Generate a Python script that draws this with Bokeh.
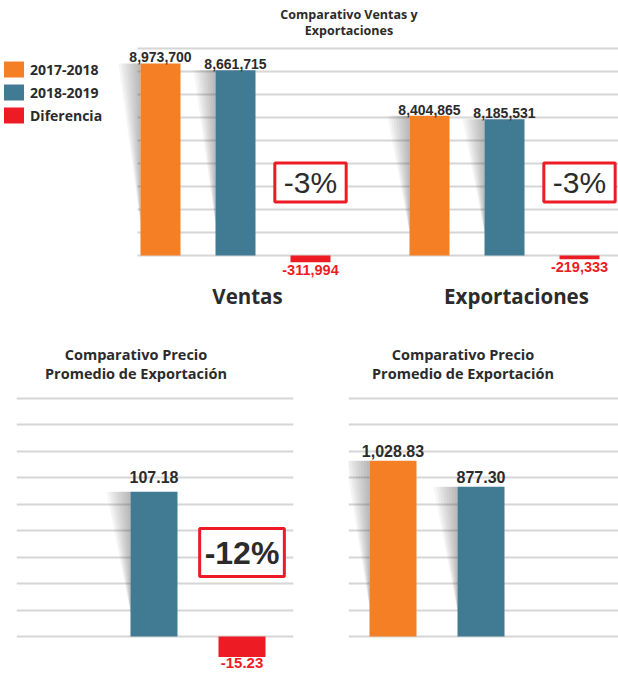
from bokeh.plotting import figure
from bokeh.models import (Range1d, FixedTicker, Grid, Legend, LegendItem, Label)
from bokeh.layouts import column, row
from bokeh.embed import file_html
from bokeh.resources import INLINE
from bokeh.core.properties import value

# ---------------- data ----------------
series = ["2017-2018", "2018-2019", "Diferencia"]
colors = ["#F47F24", "#417A93", "#ED1C24"]

groups_top = ["Ventas", "Exportaciones"]
ventas = [8973700, 8661715, -311994]
exportaciones = [8404865, 8185531, -219333]
pct_top = ["-3%", "-3%"]
title_top = "Comparativo Ventas y\nExportaciones"

title_bottom = "Comparativo Precio\nPromedio de Exportación"
precio_left = [None, 107.18, -15.23]     # 2017-2018 bar not shown in source
pct_left = "-12%"
precio_right = [1028.83, 877.30, None]   # no difference bar in source

# ---------------- styling ----------------
FONT_NAME = "Open Sans"
NUM_NAME = "Liberation Sans"
FONT = value(FONT_NAME)
NUMFONT = value(NUM_NAME)
DARK = "#2B2B2B"
RED = "#ED1C24"
GRID = "#D6D6D6"


def add_shadows(p, xs_c, tops, bar_w, shadow_w, range_name="default"):
    """soft grey wedge on the left side of each positive bar"""
    n = 8
    pxs, pys = [], []
    for xc, t in zip(xs_c, tops):
        if t is None or t <= 0:
            continue
        left = xc - bar_w / 2
        for k in range(n, 0, -1):
            w = shadow_w * k / n
            pxs.append([left, left - w, left])
            pys.append([t, t, t * 0.17])
    if pxs:
        p.patches(pxs, pys, fill_color="#5A5A5A", fill_alpha=0.06,
                  line_color=None, y_range_name=range_name)


def base_fig(width, height, x_range, y_range, ml, mr):
    p = figure(width=width, height=height, x_range=x_range, y_range=y_range,
               output_backend="svg", toolbar_location=None,
               x_axis_location=None, y_axis_location=None,
               min_border_left=ml, min_border_right=mr,
               min_border_top=0, min_border_bottom=0,
               outline_line_color=None, background_fill_color="white",
               border_fill_color="white")
    p.grid.visible = False
    return p


# ================= TOP CHART =================
TOP_W, TOP_H = 618, 320
SLOT = 75.0
x0 = -160 / SLOT
x1 = x0 + TOP_W / SLOT
group_step = 269 / SLOT
bar_w = 40 / SLOT
base_fy = 255
ppu_v = 21.4e-6
ppu_e = 16.63e-6

p1 = base_fig(TOP_W, TOP_H, Range1d(x0, x1),
              Range1d(-(TOP_H - base_fy) / ppu_v, base_fy / ppu_v), 0, 0)
p1.extra_y_ranges = {"exp": Range1d(-(TOP_H - base_fy) / ppu_e, base_fy / ppu_e)}

# horizontal gridlines, starting just left of the first bar
grid_step = 23 / ppu_v
grid_ticks = [k * grid_step for k in range(10)]
grid_x0 = 0 - 23 / SLOT
p1.segment(x0=[grid_x0] * len(grid_ticks), x1=[x1] * len(grid_ticks),
           y0=grid_ticks, y1=grid_ticks, line_color=GRID, line_width=2, level="underlay")

legend_renderers = {}
for g, (gname, vals, rname) in enumerate(zip(groups_top, [ventas, exportaciones], ["default", "exp"])):
    xs = [g * group_step + i for i in range(len(series))]
    add_shadows(p1, xs, vals, bar_w, 22 / SLOT, rname)
    for i, (x, v) in enumerate(zip(xs, vals)):
        r = p1.vbar(x=[x], top=[v], bottom=0, width=bar_w, fill_color=colors[i],
                    line_color=None, y_range_name=rname)
        if g == 0:
            legend_renderers[series[i]] = r
    pos = [(x, v) for x, v in zip(xs, vals) if v >= 0]
    neg = [(x, v) for x, v in zip(xs, vals) if v < 0]
    p1.text(x=[a for a, _ in pos], y=[b for _, b in pos], text=[f"{b:,.0f}" for _, b in pos],
            text_align="center", text_baseline="bottom", y_offset=-1,
            text_font=NUMFONT, text_font_style="bold", text_font_size="14px",
            text_color=DARK, y_range_name=rname)
    p1.text(x=[a for a, _ in neg], y=[b for _, b in neg], text=[f"{b:,.0f}" for _, b in neg],
            text_align="center", text_baseline="top", y_offset=3,
            text_font=NUMFONT, text_font_style="bold", text_font_size="14.5px",
            text_color=RED, y_range_name=rname)
    # group label
    p1.text(x=[g * group_step + 1], y=[0], text=[gname], text_align="center",
            text_baseline="middle", x_offset=12, y_offset=40,
            text_font=FONT, text_font_style="bold", text_font_size="20.5px",
            text_color=DARK)
    # percentage box
    p1.add_layout(Label(x=xs[2], y=0, y_range_name=rname, text=pct_top[g],
                        y_offset=73, text_align="center", text_baseline="middle",
                        text_font=NUM_NAME, text_font_size="30px", text_color=DARK,
                        border_line_color=RED, border_line_width=3,
                        background_fill_color="white", padding=dict(left=9, right=9, top=3, bottom=3)))

# chart title
p1.text(x=[(0 + group_step + 2) / 2], y=[base_fy / ppu_v], text=[title_top],
        text_align="center", text_baseline="top", x_offset=-21, y_offset=5,
        text_font=FONT, text_font_style="bold", text_font_size="12.5px",
        text_line_height=0.96, text_color=DARK)

legend = Legend(items=[LegendItem(label=s, renderers=[legend_renderers[s]]) for s in series],
                location=(1, 195), orientation="vertical", glyph_width=25, glyph_height=20,
                spacing=3, padding=0, margin=0, label_standoff=4,
                label_text_font=FONT_NAME, label_text_font_style="bold", label_text_font_size="14px",
                label_text_color=DARK, border_line_color=None, background_fill_alpha=0)
p1.add_layout(legend, "center")

# ================= BOTTOM CHARTS =================
BOT_H = 354
bbase_fy = 316
BSLOT = 88.0
bbar_w = 47 / BSLOT


def bottom_chart(width, ml, mr, first_fx, vals, ppu, pct, label_gap):
    fw = width - ml - mr
    xs0 = -first_fx / BSLOT
    p = base_fig(width, BOT_H, Range1d(xs0, xs0 + fw / BSLOT),
                 Range1d(-(BOT_H - bbase_fy) / ppu, bbase_fy / ppu), ml, mr)
    step = 26.5 / ppu
    p.add_layout(Grid(dimension=1, ticker=FixedTicker(ticks=[k * step for k in range(10)]),
                      grid_line_color=GRID, grid_line_width=2))
    xs = list(range(len(series)))
    add_shadows(p, xs, vals, bbar_w, 24 / BSLOT)
    for i, v in enumerate(vals):
        if v is None:
            continue
        p.vbar(x=[xs[i]], top=[v], bottom=0, width=bbar_w, fill_color=colors[i], line_color=None)
    pos = [(x, v) for x, v in zip(xs, vals) if v is not None and v >= 0]
    neg = [(x, v) for x, v in zip(xs, vals) if v is not None and v < 0]
    p.text(x=[a for a, _ in pos], y=[b for _, b in pos], text=[f"{b:,.2f}" for _, b in pos],
           text_align="center", text_baseline="bottom", y_offset=-label_gap,
           text_font=NUMFONT, text_font_style="bold", text_font_size="16px", text_color=DARK)
    if neg:
        p.text(x=[a for a, _ in neg], y=[b for _, b in neg], text=[f"{b:,.2f}" for _, b in neg],
               text_align="center", text_baseline="top", y_offset=1,
               text_font=NUMFONT, text_font_style="bold", text_font_size="15px", text_color=RED)
    p.text(x=[1], y=[bbase_fy / ppu], text=[title_bottom], text_align="center",
           text_baseline="top", x_offset=-18, y_offset=24,
           text_font=FONT, text_font_style="bold", text_font_size="14.5px",
           text_line_height=1.0, text_color=DARK)
    if pct is not None:
        p.add_layout(Label(x=xs[2], y=0, text=pct, y_offset=84, text_align="center",
                           text_baseline="middle", text_font=NUM_NAME, text_font_style="bold",
                           text_font_size="32px", text_color=DARK,
                           border_line_color=RED, border_line_width=3,
                           background_fill_color="white",
                           padding=dict(left=5, right=5, top=6, bottom=6)))
    return p


p2 = bottom_chart(310, 16, 17, 49.5, precio_left, 1.35, pct_left, 9)
p3 = bottom_chart(308, 38, 0, 44.5, precio_right, 0.1708, None, 4)

layout = column(p1, row(p2, p3))
open("out.html", "w").write(file_html(layout, INLINE))
